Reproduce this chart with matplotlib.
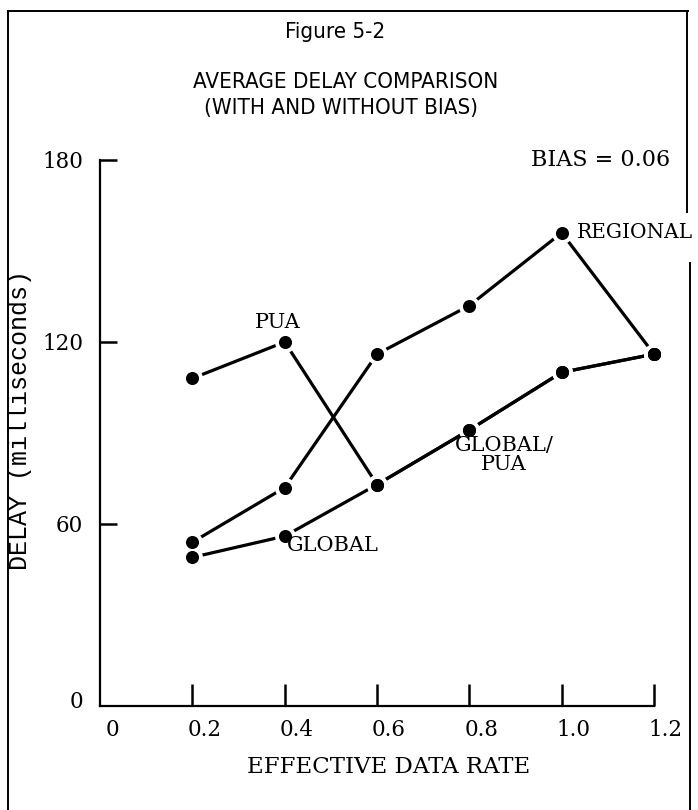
import matplotlib.pyplot as plt
from matplotlib.lines import Line2D
from matplotlib.transforms import ScaledTranslation

# efektywna przepływność i średnie opóźnienie [ms] dla trzech strategii
rate = [0.2, 0.4, 0.6, 0.8, 1.0, 1.2]
regional = [54, 72, 116, 132, 156, 116]
globalDelay = [49, 56, 73, 91, 110, 116]
pua = [108, 120, 73, 91, 110, 116]

xTicks = [0, 0.2, 0.4, 0.6, 0.8, 1.0, 1.2]
xTickLabels = ["0", "0.2", "0.4", "0.6", "0.8", "1.0", "1.2"]
yTicks = [0, 60, 120, 180]
yTickLabels = ["0", "60", "120", "180"]

plt.rcParams['font.family'] = ['DejaVu Serif']
monoFont = ['Liberation Mono', 'DejaVu Sans Mono']
titleFont = ['DejaVu Sans']

W, H = 698, 810
fig = plt.figure(figsize=(W / 100, H / 100), dpi=100)
ax = fig.add_axes([100 / W, 104 / H, 554 / W, 546 / H])

# najpierw linie, potem kropki z białą obwódką (przerwa przy punktach)
for series in (pua, regional, globalDelay):
    ax.plot(rate, series, color="black", lw=2.3, solid_capstyle="butt", zorder=2, clip_on=False)
for series in (pua, regional, globalDelay):
    ax.plot(rate, series, ls="none", marker="o", ms=15, mfc="white", mec="none", zorder=3, clip_on=False)
for series in (pua, regional, globalDelay):
    ax.plot(rate, series, ls="none", marker="o", ms=9.4, mfc="black", mec="none", zorder=4, clip_on=False)

ax.set_xlim(0, 1.2)
ax.set_ylim(0, 180)
for side in ("top", "right"):
    ax.spines[side].set_visible(False)
for side in ("left", "bottom"):
    ax.spines[side].set_linewidth(1.6)

ax.set_xticks(xTicks, xTickLabels)
ax.set_yticks(yTicks, yTickLabels)
ax.tick_params(axis="x", direction="in", length=16, width=1.8, pad=9, labelsize=15.5)
ax.tick_params(axis="y", direction="in", length=12, width=1.8, pad=12, labelsize=15.5)
ax.xaxis.get_major_ticks()[0].tick1line.set_visible(False)
ax.yaxis.get_major_ticks()[0].tick1line.set_visible(False)

shift = ScaledTranslation(0.12, 0, fig.dpi_scale_trans)
for label in ax.get_xticklabels():
    label.set_transform(label.get_transform() + shift)
ax.get_yticklabels()[0].set_transform(ax.get_yticklabels()[0].get_transform()
                                      + ScaledTranslation(0, 0.06, fig.dpi_scale_trans))

# opisy krzywych
ax.annotate("PUA", (rate[1], pua[1]), xytext=(-4.8, 13.7), textcoords="offset points",
            ha="center", va="center", fontsize=15)
ax.annotate("REGIONAL", (rate[4], regional[4]), xytext=(11, 0), textcoords="offset points",
            ha="left", va="center", fontsize=14.5)
ax.annotate("GLOBAL", (rate[1], globalDelay[1]), xytext=(1.5, -6.5), textcoords="offset points",
            ha="left", va="center", fontsize=15)
ax.annotate("GLOBAL/\nPUA", (rate[3], globalDelay[3]), xytext=(25, -18), textcoords="offset points",
            ha="center", va="center", multialignment="center", linespacing=1.0, fontsize=15)

fig.text(670 / W, 1 - 160 / H, "BIAS = 0.06", ha="right", va="center", fontsize=16)

fig.text(335 / W, 1 - 32 / H, "Figure 5-2", ha="center", va="center",
         family=titleFont, fontstretch="condensed", fontsize=16)
fig.text(346 / W, 1 - 82 / H, "AVERAGE DELAY COMPARISON", ha="center", va="center",
         family=titleFont, fontstretch="condensed", fontsize=16)
fig.text(341 / W, 1 - 108 / H, "(WITH AND WITHOUT BIAS)", ha="center", va="center",
         family=titleFont, fontstretch="condensed", fontsize=16)

fig.text(389 / W, 1 - 767 / H, "EFFECTIVE DATA RATE", ha="center", va="center", fontsize=16.5)
fig.text(20 / W, 1 - 420 / H, "DELAY (milliseconds)", ha="center", va="center", rotation=90,
         family=monoFont, fontsize=18)

# ramka rysunku
frame = [
    ([8, 8], [11, 810]),
    ([8, 688], [11, 11]),
    ([687, 687], [11, 212]),
    ([690, 690], [263, 810]),
]
for xs, ys in frame:
    fig.add_artist(Line2D([x / W for x in xs], [1 - y / H for y in ys],
                          transform=fig.transFigure, color="black", lw=1.4))

plt.savefig("out.png", dpi=100)
